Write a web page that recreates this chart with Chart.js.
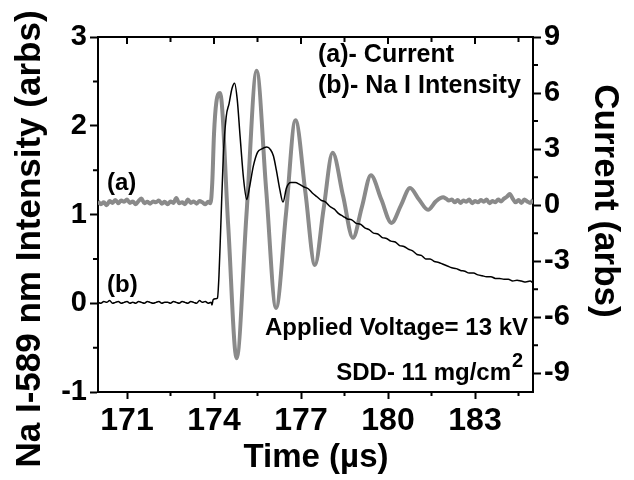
<!DOCTYPE html>
<html>
<head>
<meta charset="utf-8">
<script src="https://cdn.jsdelivr.net/npm/chart.js@4.4.1/dist/chart.umd.min.js"></script>
<style>
  html, body { margin: 0; padding: 0; background: #fff; }
  #wrap { width: 634px; height: 480px; }
</style>
</head>
<body>
<div id="wrap"><canvas id="chart" width="634" height="480"></canvas></div>
<script>
// (a) current, right axis
const currentTime = [
  170.0, 170.1, 170.2, 170.3, 170.4, 170.5, 170.6, 170.7, 170.8, 170.9,
  171.0, 171.1, 171.2, 171.3, 171.4, 171.5, 171.6, 171.7, 171.8, 171.9,
  172.0, 172.1, 172.2, 172.3, 172.4, 172.5, 172.6, 172.7, 172.8, 172.9,
  173.0, 173.1, 173.2, 173.3, 173.4, 173.5, 173.6, 173.7, 173.8, 173.88,
  173.94, 174.0, 174.08, 174.21, 174.49, 174.78, 175.12, 175.47, 175.8, 176.14,
  176.48, 176.81, 177.15, 177.48, 177.78, 178.09, 178.45, 178.79, 179.1, 179.41,
  179.77, 180.12, 180.45, 180.76, 181.07, 181.38, 181.65, 181.9, 182.0, 182.1,
  182.2, 182.3, 182.4, 182.5, 182.6, 182.7, 182.8, 182.9, 183.0, 183.1,
  183.2, 183.3, 183.4, 183.5, 183.6, 183.7, 183.8, 183.9, 184.0, 184.1,
  184.2, 184.3, 184.4, 184.5, 184.6, 184.7, 184.8, 184.9, 185.0
];
const currentValues = [
  0.20, 0.05, 0.15, 0.00, 0.22, 0.12, 0.28, 0.10, 0.25, 0.18,
  0.30, 0.12, 0.20, 0.05, 0.22, 0.35, 0.10, 0.18, 0.08, 0.20,
  0.15, 0.25, 0.08, 0.18, 0.05, 0.20, 0.12, 0.38, 0.10, 0.15,
  0.05, 0.30, 0.12, 0.20, 0.08, 0.22, 0.15, 0.05, 0.18, 0.10,
  1.2, 3.8, 5.5, 6.0, -1.1, -8.2, -0.5, 7.2, 0.8, -5.5,
  -0.5, 4.55, 0.7, -3.2, -0.2, 2.8, 0.5, -1.75, -0.1, 1.6,
  0.3, -0.95, 0.0, 0.92, 0.3, -0.25, 0.2, 0.42, 0.35, 0.25,
  0.30, 0.15, 0.28, 0.12, 0.25, 0.18, 0.30, 0.10, 0.22, 0.15,
  0.28, 0.18, 0.30, 0.10, 0.22, 0.15, 0.30, 0.20, 0.35, 0.45,
  0.60, 0.35, 0.15, 0.28, 0.12, 0.30, 0.20, 0.12, 0.28
];

// (b) Na I intensity, left axis
const intensityTime = [
  170.0, 170.1, 170.2, 170.3, 170.4, 170.5, 170.6, 170.7, 170.8, 170.9,
  171.0, 171.1, 171.2, 171.3, 171.4, 171.5, 171.6, 171.7, 171.8, 171.9,
  172.0, 172.1, 172.2, 172.3, 172.4, 172.5, 172.6, 172.7, 172.8, 172.9,
  173.0, 173.1, 173.2, 173.3, 173.4, 173.5, 173.6, 173.7, 173.8, 173.9,
  173.93, 173.97, 174.05, 174.12, 174.17, 174.23, 174.32, 174.42, 174.52, 174.62,
  174.71, 174.8, 174.9, 175.02, 175.13, 175.22, 175.36, 175.5, 175.65, 175.82,
  175.95, 176.05, 176.15, 176.27, 176.38, 176.5, 176.65, 176.8, 176.95, 177.1,
  177.25, 177.4, 177.55, 177.7, 177.85, 178.0, 178.15, 178.3, 178.45, 178.6,
  178.75, 178.9, 179.05, 179.2, 179.35, 179.5, 179.65, 179.8, 179.95, 180.1,
  180.25, 180.4, 180.55, 180.7, 180.85, 181.0, 181.15, 181.3, 181.45, 181.6,
  181.75, 181.9, 182.05, 182.2, 182.35, 182.5, 182.65, 182.8, 182.95, 183.1,
  183.25, 183.4, 183.55, 183.7, 183.85, 184.0, 184.15, 184.3, 184.45, 184.6,
  184.75, 184.9, 185.0
];
const intensityValues = [
  0.01, 0.00, 0.02, 0.01, 0.03, 0.00, 0.01, 0.02, 0.00, 0.01,
  0.02, 0.00, 0.01, 0.00, 0.02, 0.01, 0.00, 0.02, 0.01, 0.00,
  0.01, 0.02, 0.00, 0.01, 0.01, 0.00, 0.02, 0.01, 0.00, 0.02,
  0.01, 0.00, 0.02, 0.01, 0.00, 0.03, 0.01, 0.02, 0.00, 0.01,
  -0.02, 0.04, 0.05, 0.06, 0.30, 0.83, 1.65, 2.10, 2.25, 2.42,
  2.48, 2.30, 1.88, 1.40, 1.17, 1.30, 1.55, 1.70, 1.74, 1.76,
  1.73, 1.66, 1.50, 1.28, 1.14, 1.30, 1.36, 1.36, 1.34, 1.31,
  1.29, 1.24, 1.20, 1.16, 1.14, 1.09, 1.06, 1.01, 0.98, 0.95,
  0.94, 0.90, 0.89, 0.85, 0.83, 0.79, 0.78, 0.74, 0.73, 0.70,
  0.69, 0.65, 0.64, 0.61, 0.59, 0.55, 0.54, 0.50, 0.50, 0.47,
  0.46, 0.44, 0.42, 0.40, 0.39, 0.37, 0.36, 0.34, 0.34, 0.32,
  0.31, 0.30, 0.30, 0.28, 0.28, 0.27, 0.27, 0.25, 0.26, 0.25,
  0.24, 0.25, 0.23
];

const xTicks = [171, 174, 177, 180, 183];
const xMinorTicks = [172.5, 175.5, 178.5, 181.5, 184.5];
const leftTicks = [-1, 0, 1, 2, 3];
const leftMinorTicks = [-0.5, 0.5, 1.5, 2.5];
const rightTicks = [-9, -6, -3, 0, 3, 6, 9];
const rightMinorTicks = [-7.5, -4.5, -1.5, 1.5, 4.5, 7.5];

const FONT = '"Liberation Sans", Arial, Helvetica, sans-serif';

function toPoints(xs, ys) {
  return xs.map((x, i) => ({ x: x, y: ys[i] }));
}

const extras = {
  id: "extras",
  afterDraw(chart) {
    const ctx = chart.ctx;
    const area = chart.chartArea;
    const sx = chart.scales.x;
    const sy = chart.scales.y;
    const sy1 = chart.scales.y1;

    ctx.save();
    ctx.strokeStyle = "#000";
    ctx.lineWidth = 2;

    // top frame line
    ctx.beginPath();
    ctx.moveTo(area.left - 1, area.top);
    ctx.lineTo(area.right + 1, area.top);
    ctx.stroke();

    ctx.beginPath();
    // bottom minor ticks
    xMinorTicks.forEach((v) => {
      const px = sx.getPixelForValue(v);
      ctx.moveTo(px, area.bottom);
      ctx.lineTo(px, area.bottom + 4);
    });
    // top ticks pointing in
    xTicks.forEach((v) => {
      const px = sx.getPixelForValue(v);
      ctx.moveTo(px, area.top);
      ctx.lineTo(px, area.top + 7);
    });
    xMinorTicks.forEach((v) => {
      const px = sx.getPixelForValue(v);
      ctx.moveTo(px, area.top);
      ctx.lineTo(px, area.top + 5);
    });
    // left minor ticks
    leftMinorTicks.forEach((v) => {
      const py = sy.getPixelForValue(v);
      ctx.moveTo(area.left, py);
      ctx.lineTo(area.left - 5, py);
    });
    // right minor ticks
    rightMinorTicks.forEach((v) => {
      const py = sy1.getPixelForValue(v);
      ctx.moveTo(area.right, py);
      ctx.lineTo(area.right + 5, py);
    });
    ctx.stroke();

    ctx.fillStyle = "#000";
    ctx.textBaseline = "alphabetic";

    // axis titles
    ctx.font = "bold 35px " + FONT;
    ctx.textAlign = "center";
    ctx.save();
    ctx.translate(40, 239);
    ctx.rotate(-Math.PI / 2);
    ctx.fillText("Na I-589 nm Intensity (arbs)", 0, 0);
    ctx.restore();

    ctx.save();
    ctx.translate(595, 201);
    ctx.rotate(Math.PI / 2);
    ctx.fillText("Current (arbs)", 0, 0);
    ctx.restore();

    ctx.font = "bold 33px " + FONT;
    ctx.fillText("Time (\u00b5s)", 316, 467);

    // legend text
    ctx.font = "bold 25px " + FONT;
    ctx.textAlign = "left";
    ctx.fillText("(a)- Current", 318, 62);
    ctx.fillText("(b)- Na I Intensity", 318, 93);

    // curve labels
    ctx.font = "bold 24px " + FONT;
    ctx.fillText("(a)", 107, 190);
    ctx.fillText("(b)", 107, 292);

    // notes
    ctx.font = "bold 24px " + FONT;
    ctx.textAlign = "right";
    ctx.fillText("Applied Voltage= 13 kV", 528, 335);
    ctx.fillText("SDD- 11 mg/cm", 511, 380);
    ctx.font = "bold 20px " + FONT;
    ctx.textAlign = "left";
    ctx.fillText("2", 512, 367);

    ctx.restore();
  },
};

const ctx = document.getElementById("chart").getContext("2d");
const chart = new Chart(ctx, {
  type: "line",
  data: {
    datasets: [
      {
        label: "(b)- Na I Intensity",
        data: toPoints(intensityTime, intensityValues),
        yAxisID: "y",
        borderColor: "#000000",
        borderWidth: 1.5,
        pointRadius: 0,
        fill: false,
        cubicInterpolationMode: "monotone",
        order: 0,
      },
      {
        label: "(a)- Current",
        data: toPoints(currentTime, currentValues),
        yAxisID: "y1",
        borderColor: "#8a8a8a",
        borderWidth: 4,
        pointRadius: 0,
        fill: false,
        cubicInterpolationMode: "monotone",
        order: 1,
      },
    ],
  },
  options: {
    responsive: false,
    animation: false,
    events: [],
    layout: { padding: { top: 37, left: 0, right: 0, bottom: 0 } },
    plugins: {
      legend: { display: false },
      tooltip: { enabled: false },
    },
    scales: {
      x: {
        type: "linear",
        position: "bottom",
        min: 170,
        max: 185,
        afterBuildTicks: (axis) => {
          axis.ticks = xTicks.map((v) => ({ value: v }));
        },
        afterFit: (axis) => {
          axis.height = 88;
        },
        ticks: {
          color: "#000",
          font: { family: FONT, size: 32, weight: "bold" },
          padding: 3,
          maxRotation: 0,
          autoSkip: false,
        },
        grid: {
          drawOnChartArea: false,
          drawTicks: true,
          tickLength: 7,
          tickWidth: 2,
          tickColor: "#000",
        },
        border: { display: true, color: "#000", width: 2 },
      },
      y: {
        type: "linear",
        position: "left",
        min: -1,
        max: 3,
        afterBuildTicks: (axis) => {
          axis.ticks = leftTicks.map((v) => ({ value: v }));
        },
        afterFit: (axis) => {
          axis.width = 98;
        },
        ticks: {
          color: "#000",
          font: { family: FONT, size: 29, weight: "bold" },
          padding: 3,
        },
        grid: {
          drawOnChartArea: false,
          drawTicks: true,
          tickLength: 8,
          tickWidth: 2,
          tickColor: "#000",
        },
        border: { display: true, color: "#000", width: 2 },
      },
      y1: {
        type: "linear",
        position: "right",
        min: -10,
        max: 9,
        afterBuildTicks: (axis) => {
          axis.ticks = rightTicks.map((v) => ({ value: v }));
        },
        afterFit: (axis) => {
          axis.width = 101;
        },
        ticks: {
          color: "#000",
          font: { family: FONT, size: 29, weight: "bold" },
          padding: 3,
        },
        grid: {
          drawOnChartArea: false,
          drawTicks: true,
          tickLength: 8,
          tickWidth: 2,
          tickColor: "#000",
        },
        border: { display: true, color: "#000", width: 2 },
      },
    },
  },
  plugins: [extras],
});
</script>
</body>
</html>
